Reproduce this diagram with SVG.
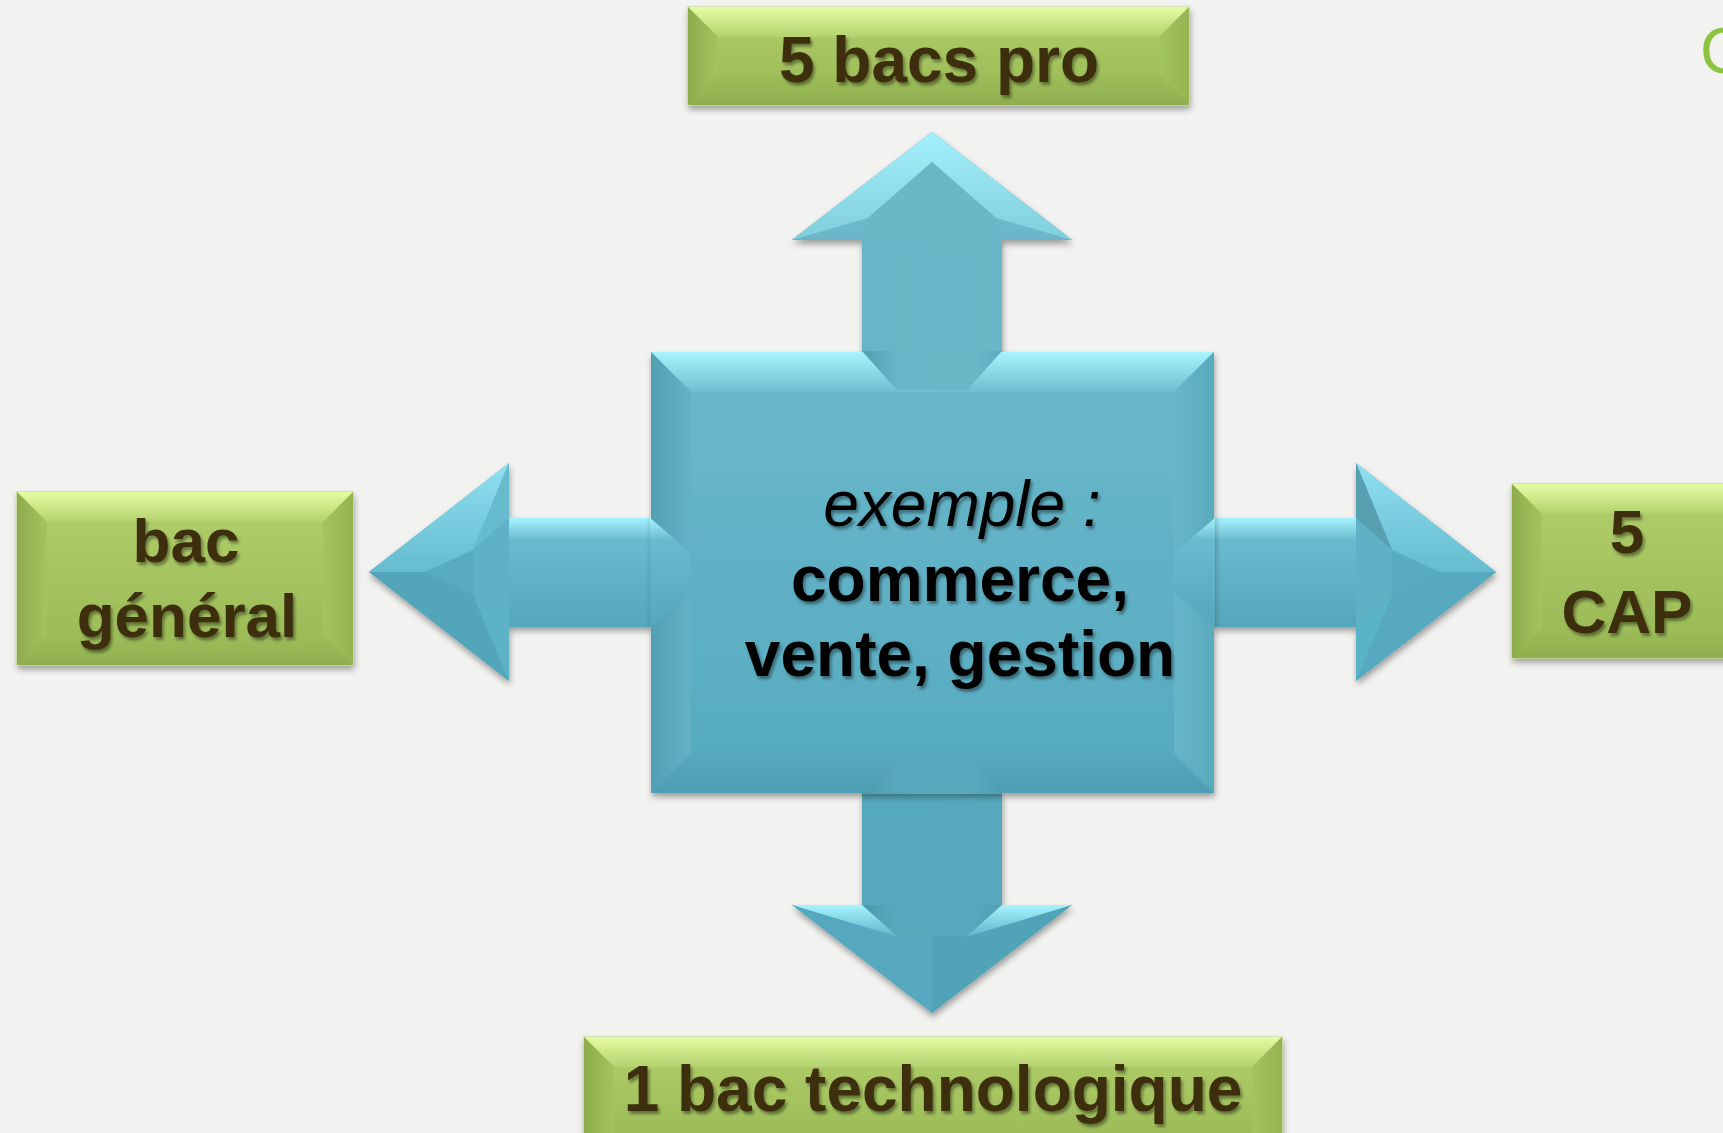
<svg xmlns="http://www.w3.org/2000/svg" width="1723" height="1133" viewBox="0 0 1723 1133">
<defs>
<style>
.gt{font-family:"Liberation Sans",Arial,sans-serif;font-weight:bold;fill:#3d2e0f;text-anchor:middle}
.ct{font-family:"Liberation Sans",Arial,sans-serif;font-weight:bold;fill:#000;text-anchor:middle}
.it{font-family:"Liberation Sans",Arial,sans-serif;font-style:italic;fill:#000;text-anchor:middle}
</style>
<filter id="sh" x="-10%" y="-10%" width="130%" height="140%">
<feDropShadow dx="1" dy="4" stdDeviation="3" flood-color="#000" flood-opacity="0.35"/>
</filter>
<filter id="tsh" x="-5%" y="-10%" width="115%" height="130%">
<feDropShadow dx="2" dy="3" stdDeviation="1.5" flood-color="#000" flood-opacity="0.4"/>
</filter>
<linearGradient id="gFace" x1="0" y1="0" x2="0" y2="1"><stop offset="0" stop-color="#b2d06c"/><stop offset="1" stop-color="#98b854"/></linearGradient>
<linearGradient id="gTop" x1="0" y1="0" x2="0" y2="1"><stop offset="0" stop-color="#e6fca2"/><stop offset="1" stop-color="#b3d26e"/></linearGradient>
<linearGradient id="gLeft" x1="0" y1="0" x2="1" y2="0"><stop offset="0" stop-color="#8eac4d"/><stop offset="1" stop-color="#a4c460"/></linearGradient>
<linearGradient id="gRight" x1="0" y1="0" x2="1" y2="0"><stop offset="0" stop-color="#a4c460"/><stop offset="1" stop-color="#94b452"/></linearGradient>
<linearGradient id="gBot" x1="0" y1="0" x2="0" y2="1"><stop offset="0" stop-color="#9ebe5a"/><stop offset="1" stop-color="#8fae4e"/></linearGradient>
<linearGradient id="bFace" x1="0" y1="0" x2="0" y2="1"><stop offset="0" stop-color="#6cb8cb"/><stop offset="1" stop-color="#55aac0"/></linearGradient>
<linearGradient id="bTop" x1="0" y1="0" x2="0" y2="1"><stop offset="0" stop-color="#a8f5ff"/><stop offset="1" stop-color="#6fbdce"/></linearGradient>
<linearGradient id="bLeft" x1="0" y1="0" x2="1" y2="0"><stop offset="0" stop-color="#539fb4"/><stop offset="1" stop-color="#63b2c6"/></linearGradient>
<linearGradient id="bRight" x1="0" y1="0" x2="1" y2="0"><stop offset="0" stop-color="#66b5c8"/><stop offset="1" stop-color="#5aaabe"/></linearGradient>
<linearGradient id="bBot" x1="0" y1="0" x2="0" y2="1"><stop offset="0" stop-color="#58a9be"/><stop offset="1" stop-color="#4e9eb3"/></linearGradient>
<linearGradient id="vShaft" x1="0" y1="0" x2="1" y2="0"><stop offset="0" stop-color="#519db1"/><stop offset="0.25" stop-color="#69b5c7"/><stop offset="0.8" stop-color="#6bb7c8"/><stop offset="1" stop-color="#5eabbf"/></linearGradient>
<linearGradient id="vShaftD" x1="0" y1="0" x2="1" y2="0"><stop offset="0" stop-color="#4e99ad"/><stop offset="0.25" stop-color="#57a8bc"/><stop offset="0.8" stop-color="#57a9be"/><stop offset="1" stop-color="#4f9fb4"/></linearGradient>
<linearGradient id="hShaft" x1="0" y1="0" x2="0" y2="1"><stop offset="0" stop-color="#a6f3ff"/><stop offset="0.2" stop-color="#6abbcf"/><stop offset="0.6" stop-color="#5fb1c6"/><stop offset="1" stop-color="#55a7bc"/></linearGradient>
<linearGradient id="hLight" x1="0" y1="0" x2="0" y2="1"><stop offset="0" stop-color="#8fe0f1"/><stop offset="1" stop-color="#66bbcf"/></linearGradient>
<linearGradient id="uHead" x1="0" y1="0" x2="0" y2="1"><stop offset="0" stop-color="#78c3d4"/><stop offset="1" stop-color="#6ab6c8"/></linearGradient>
<linearGradient id="uLight" x1="0" y1="0" x2="0" y2="1"><stop offset="0" stop-color="#a4f0fc"/><stop offset="1" stop-color="#80cddd"/></linearGradient>
<linearGradient id="dLight" x1="0" y1="0" x2="0" y2="1"><stop offset="0" stop-color="#a8f4ff"/><stop offset="1" stop-color="#5fb3c7"/></linearGradient>
</defs>
<rect width="1723" height="1133" fill="#f2f2f0"/>

<text x="1700" y="73" font-family="'Liberation Sans',Arial,sans-serif" font-size="64" fill="#8cc43f">C</text>

<g id="connectors" filter="url(#sh)">
 <g id="arrow-up">
  <polygon points="932,132 1072,240 1002,240 1002,353 862,353 862,240 792,240" fill="url(#vShaft)"/>
  <polygon points="932,132 1072,240 792,240" fill="url(#uHead)"/>
  <polygon points="932,132 792,240 868,218 932,162" fill="url(#uLight)"/>
  <polygon points="932,132 1072,240 996,218 932,162" fill="url(#uLight)"/>
  <polygon points="862,240 868,218 932,162 996,218 1002,240" fill="#6bb7c8"/>
 </g>
 <g id="arrow-down">
  <polygon points="932,1013 1072,905 1002,905 1002,792 862,792 862,905 792,905" fill="url(#vShaftD)"/>
  <polygon points="932,1013 792,905 932,905" fill="#55a8bd"/>
  <polygon points="932,1013 1072,905 932,905" fill="#51a3b8"/>
  <polygon points="862,905 1002,905 966,936 898,936" fill="url(#vShaftD)"/>
  <polygon points="792,905 862,905 898,937" fill="url(#dLight)"/>
  <polygon points="1072,905 1002,905 966,937" fill="url(#dLight)"/>
 </g>
 <g id="arrow-left">
  <polygon points="509,518 652,518 652,627 509,627" fill="url(#hShaft)"/>
  <polygon points="369,572 509,463 509,681" fill="#58abc0"/>
  <polygon points="509,463 369,572 425,572 473,550" fill="url(#hLight)"/>
  <polygon points="509,463 473,550 509,550" fill="#66bbce"/>
  <polygon points="369,572 425,572 473,595 509,681" fill="#53a5ba"/>
  <polygon points="509,681 473,595 509,595" fill="#5cb3c7"/>
  <polygon points="473,550 509,518 509,627 473,595" fill="#5fb1c6"/>
 </g>
 <g id="arrow-right">
  <polygon points="1356,518 1213,518 1213,627 1356,627" fill="url(#hShaft)"/>
  <polygon points="1496,572 1356,463 1356,681" fill="#58abc0"/>
  <polygon points="1356,463 1496,572 1440,572 1392,550" fill="url(#hLight)"/>
  <polygon points="1356,463 1392,550 1356,550" fill="#589fb2"/>
  <polygon points="1496,572 1440,572 1392,595 1356,681" fill="#56a9be"/>
  <polygon points="1356,681 1392,595 1356,595" fill="#5ab4c9"/>
  <polygon points="1392,550 1356,518 1356,627 1392,595" fill="#5fb1c6"/>
 </g>
</g>

<g id="node-center">
 <g filter="url(#sh)">
  <rect x="651" y="352" width="563" height="441" fill="url(#bFace)"/>
 </g>
 <polygon points="651,352 1214,352 1174,392 691,392" fill="url(#bTop)"/>
 <polygon points="651,352 691,392 691,753 651,793" fill="url(#bLeft)"/>
 <polygon points="1214,352 1214,793 1174,753 1174,392" fill="url(#bRight)"/>
 <polygon points="651,793 691,753 1174,753 1214,793" fill="url(#bBot)"/>
 <polygon points="862,351 1002,351 967,390 897,390" fill="url(#vShaft)"/>
 <polygon points="862,794 1002,794 967,755 897,755" fill="url(#vShaftD)"/>
 <polygon points="650,518 650,627 690,593 690,552" fill="url(#hShaft)"/>
 <polygon points="1215,518 1215,627 1175,593 1175,552" fill="url(#hShaft)"/>
 <g filter="url(#tsh)">
  <text class="it" x="962" y="526" font-size="64">exemple :</text>
  <text class="ct" x="960" y="601" font-size="64">commerce,</text>
  <text class="ct" x="960" y="676" font-size="64">vente, gestion</text>
 </g>
</g>

<g id="node-top">
 <g filter="url(#sh)"><rect x="688" y="7" width="501" height="98" fill="url(#gFace)" stroke="#b8d47e" stroke-width="1"/></g>
 <polygon points="688,7 1189,7 1159,37 718,37" fill="url(#gTop)"/>
 <polygon points="688,7 718,37 718,75 688,105" fill="url(#gLeft)"/>
 <polygon points="1189,7 1189,105 1159,75 1159,37" fill="url(#gRight)"/>
 <polygon points="688,105 718,75 1159,75 1189,105" fill="url(#gBot)"/>
 <text class="gt" x="939" y="82" font-size="64" filter="url(#tsh)">5 bacs pro</text>
</g>

<g id="node-left">
 <g filter="url(#sh)"><rect x="17" y="492" width="336" height="173" fill="url(#gFace)" stroke="#b8d47e" stroke-width="1"/></g>
 <polygon points="17,492 353,492 323,522 47,522" fill="url(#gTop)"/>
 <polygon points="17,492 47,522 47,635 17,665" fill="url(#gLeft)"/>
 <polygon points="353,492 353,665 323,635 323,522" fill="url(#gRight)"/>
 <polygon points="17,665 47,635 323,635 353,665" fill="url(#gBot)"/>
 <g filter="url(#tsh)">
  <text class="gt" x="186" y="562" font-size="62">bac</text>
  <text class="gt" x="187" y="637" font-size="62">général</text>
 </g>
</g>

<g id="node-right">
 <g filter="url(#sh)"><rect x="1512" y="484" width="250" height="174" fill="url(#gFace)" stroke="#b8d47e" stroke-width="1"/></g>
 <polygon points="1512,484 1762,484 1732,514 1542,514" fill="url(#gTop)"/>
 <polygon points="1512,484 1542,514 1542,628 1512,658" fill="url(#gLeft)"/>
 <polygon points="1762,484 1762,658 1732,628 1732,514" fill="url(#gRight)"/>
 <polygon points="1512,658 1542,628 1732,628 1762,658" fill="url(#gBot)"/>
 <g filter="url(#tsh)">
  <text class="gt" x="1627" y="553" font-size="62">5</text>
  <text class="gt" x="1627" y="633" font-size="62">CAP</text>
 </g>
</g>

<g id="node-bottom">
 <g filter="url(#sh)"><rect x="584" y="1037" width="698" height="120" fill="url(#gFace)" stroke="#b8d47e" stroke-width="1"/></g>
 <polygon points="584,1037 1282,1037 1252,1067 614,1067" fill="url(#gTop)"/>
 <polygon points="584,1037 614,1067 614,1157 584,1157" fill="url(#gLeft)"/>
 <polygon points="1282,1037 1282,1157 1252,1157 1252,1067" fill="url(#gRight)"/>
 <text class="gt" x="933" y="1111" font-size="64" filter="url(#tsh)">1 bac technologique</text>
</g>
</svg>
